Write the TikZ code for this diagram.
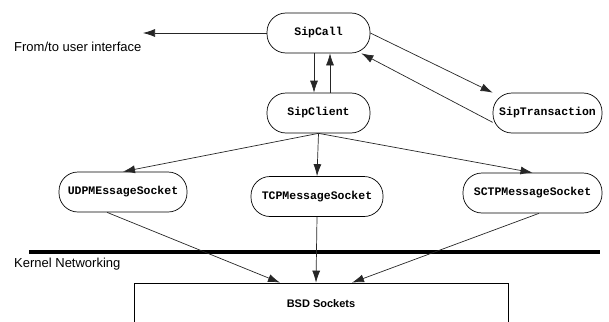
\documentclass[tikz,border=0pt]{standalone}
\usepackage{fontspec}
\setmainfont{Liberation Sans}
\setmonofont{Liberation Mono}
\usetikzlibrary{arrows.meta, positioning, calc}

\begin{document}
\begin{tikzpicture}[x=1pt, y=-1pt, >={Latex[length=12pt,width=8pt]}]
                \tikzstyle{cls}=[draw, line width=0.7pt, rounded corners=19pt, fill=white, minimum height=40pt, inner sep=0pt, font=\ttfamily\bfseries\fontsize{11.5}{13}\selectfont]
                \tikzstyle{link}=[->, line width=0.7pt, black!85]
                \tikzstyle{lbl}=[anchor=west, inner sep=0pt, font=\fontsize{13}{15}\selectfont]
                \useasboundingbox (0,0) rectangle (609,321);

                % Call layer
                \node[cls, minimum width=103pt] (call) at (318.5, 33) {SipCall};
                \node[cls, minimum width=103pt] (client) at (318.5, 113) {SipClient};
                \node[cls, minimum width=109pt] (trans) at (547.5, 113) {SipTransaction};
                \node[lbl] (ui) at (14, 47) {From/to user interface};
                \coordinate (uiend) at (143, 33);

                % Socket layer
                \node[cls, minimum width=128pt] (udp) at (123, 192) {UDPMEssageSocket};
                \node[cls, minimum width=132pt] (tcp) at (317, 196.5) {TCPMessageSocket};
                \node[cls, minimum width=139pt] (sctp) at (532.5, 193) {SCTPMessageSocket};

                % Kernel
                \coordinate (kl) at (29, 252);
                \coordinate (kr) at (600, 252);
                \draw[line width=4pt] (kl) -- (kr);
                \node[lbl] (kernel) at (14, 264) {Kernel Networking};
                \node[draw, line width=0.7pt, minimum width=374pt, minimum height=42pt, inner sep=0pt, font=\bfseries\fontsize{11}{13}\selectfont] (bsd) at (321, 304) {BSD Sockets};
                \coordinate (bsdl) at ($(bsd.north)+(-41,0)$);
                \coordinate (bsdm) at ($(bsd.north)+(-5,0)$);
                \coordinate (bsdr) at ($(bsd.north)+(31,0)$);

                % Connections
                \draw[link] (call.west) -- (uiend);
                \draw[link] ($(call.south)+(-4.5,0)$) -- ($(client.north)+(-4.5,0)$);
                \draw[link] ($(client.north)+(11.5,0)$) -- ($(call.south)+(11.5,0)$);
                \draw[link] (call.east) -- (trans.north west);
                \draw[link] ($(trans.south west)+(0,-11)$) -- ($(call.south east)+(-9,0)$);
                \foreach \s in {udp,tcp,sctp} {
                    \draw[link] (client.south) -- (\s.north);
                }
                \draw[link] ($(udp.south)+(-16,0)$) -- (bsdl);
                \draw[link] (tcp.south) -- (bsdm);
                \draw[link] ($(sctp.south)+(6.5,0)$) -- (bsdr);
\end{tikzpicture}
\end{document}
